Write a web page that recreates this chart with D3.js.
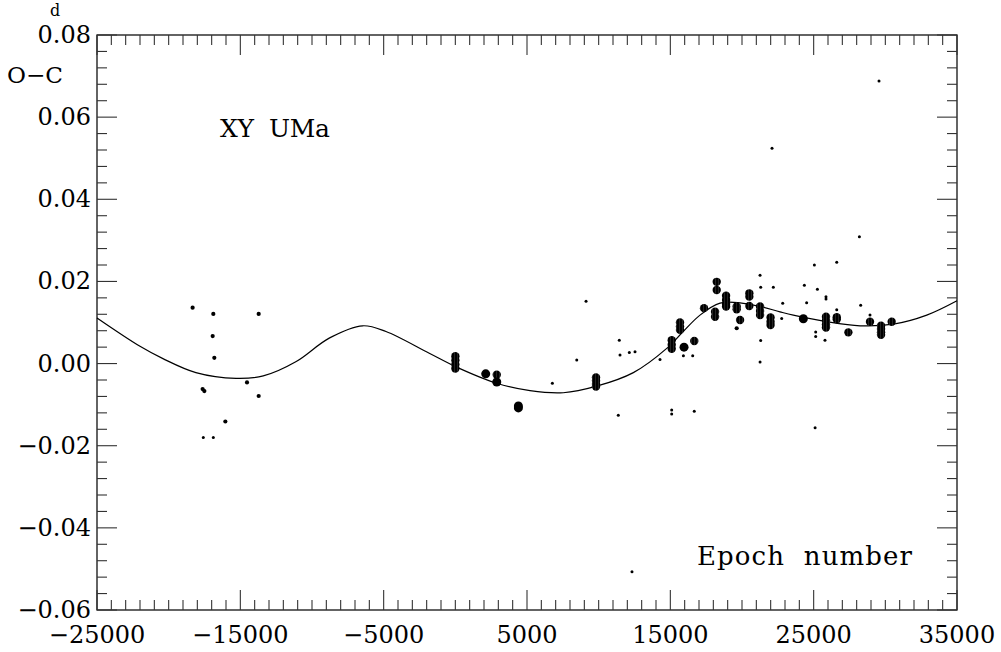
<!DOCTYPE html>
<html>
<head>
<meta charset="utf-8">
<script src="https://cdn.jsdelivr.net/npm/d3@7"></script>
<style>
  html, body { margin: 0; padding: 0; background: #fff; }
  svg { display: block; }
  text { font-family: "DejaVu Serif", "Liberation Serif", serif; fill: #000; }
</style>
</head>
<body>
<script>
// ---------- data ----------
const xTickLabels = [-25000, -15000, -5000, 5000, 15000, 25000, 35000];
const yTickLabels = [-0.06, -0.04, -0.02, 0.00, 0.02, 0.04, 0.06, 0.08];

// fitted curve
const curveEpoch = [-25000, -22000, -20400, -18100, -15300, -13400, -11100, -8800, -6460, -4840, -1820, 50, 2890, 5210, 7530, 9860, 12420, 14750, 15900, 17070, 18470, 19860, 21260, 22650, 23580, 25910, 28240, 30560, 32890, 35000];
const curveOC    = [0.0111, 0.0042, 0.0012, -0.0022, -0.0036, -0.0030, 0.0005, 0.0062, 0.0092, 0.0078, 0.0025, -0.0008, -0.0048, -0.0066, -0.0071, -0.0055, -0.0022, 0.0037, 0.0078, 0.0118, 0.0147, 0.0148, 0.0139, 0.0126, 0.0118, 0.0102, 0.0092, 0.0096, 0.0118, 0.0153];

// small dots (low weight)
const smallEpoch = [-17585, -16885, 6770, 8470, 9120, 11370, 11440, 11490, 12140, 12535, 12325, 14280, 15095, 15095, 16670, 15910, 16560, 21260, 21305, 22185, 21305, 21260, 22095, 22840, 22770, 24350, 24510, 25050, 25260, 25140, 25140, 25790, 25860, 25860, 26610, 26610, 28190, 28280, 28930, 29560, 25100];
const smallOC    = [-0.0180, -0.0180, -0.0048, 0.0009, 0.0152, -0.0126, 0.0057, 0.0021, 0.0027, 0.0029, -0.0507, 0.0010, -0.0113, -0.0123, -0.0116, 0.0019, 0.0019, 0.0215, 0.0186, 0.0186, 0.0056, 0.0004, 0.0524, 0.0147, 0.0110, 0.0191, 0.0148, 0.0240, 0.0181, 0.0077, 0.0066, 0.0057, 0.0163, 0.0157, 0.0247, 0.0131, 0.0309, 0.0142, 0.0118, 0.0688, -0.0156];

// medium dots
const midEpoch = [-18330, -16885, -13720, -16930, -16815, -17630, -17510, -14535, -13720, -16045, 19630];
const midOC    = [0.0136, 0.0121, 0.0121, 0.0067, 0.0014, -0.0062, -0.0067, -0.0046, -0.0079, -0.0141, 0.0086];

// large hatched points (high weight)
const bigEpoch = [0, 0, 0, 0, 2890, 9815, 9815, 9815, 9815, 15095, 15095, 15095, 15675, 15675, 15675, 16670, 17350, 18235, 18235, 18120, 18120, 18890, 18890, 18890, 18890, 19630, 19630, 19865, 20510, 20510, 20510, 21260, 21260, 21260, 21990, 21990, 21990, 25860, 25860, 25860, 25860, 26610, 26610, 27420, 28930, 29700, 29700, 29700, 29700, 30445];
const bigOC    = [0.0018, 0.0008, -0.0002, -0.0012, -0.0027, -0.0034, -0.0042, -0.0050, -0.0056, 0.0057, 0.0046, 0.0036, 0.0100, 0.0090, 0.0082, 0.0055, 0.0135, 0.0199, 0.0179, 0.0126, 0.0114, 0.0165, 0.0155, 0.0145, 0.0139, 0.0139, 0.0132, 0.0106, 0.0171, 0.0163, 0.0140, 0.0139, 0.0128, 0.0118, 0.0112, 0.0102, 0.0094, 0.0114, 0.0105, 0.0095, 0.0088, 0.0113, 0.0108, 0.0076, 0.0102, 0.0092, 0.0084, 0.0076, 0.0070, 0.0102];

// large solid points
const solidEpoch = [2120, 2890, 4400, 4400, 15955, 24280];
const solidOC    = [-0.0025, -0.0045, -0.0103, -0.0108, 0.0040, 0.0109];

// ---------- layout ----------
const W = 1001, H = 652;
const m = { left: 97, top: 35, right: 44, bottom: 42 };
const iw = W - m.left - m.right, ih = H - m.top - m.bottom;

const svg = d3.select("body").append("svg").attr("width", W).attr("height", H);

const defs = svg.append("defs");
const pat = defs.append("pattern").attr("id", "hatch").attr("patternUnits", "userSpaceOnUse")
  .attr("width", 3).attr("height", 3);
pat.append("rect").attr("width", 3).attr("height", 3).attr("fill", "#000");
pat.append("rect").attr("x", 1).attr("width", 0.6).attr("height", 3).attr("fill", "#3c3c3c");

const x = d3.scaleLinear().domain([-25000, 35000]).range([m.left, m.left + iw]);
const y = d3.scaleLinear().domain([-0.06, 0.08]).range([m.top + ih, m.top]);

const g = svg.append("g");

// frame
g.append("rect").attr("x", x(-25000)).attr("y", y(0.08))
  .attr("width", x(35000) - x(-25000)).attr("height", y(-0.06) - y(0.08))
  .attr("fill", "none").attr("stroke", "#111").attr("stroke-width", 1.3);

// ticks
const xMinor = d3.range(-25000, 35001, 1000);
const yMinor = d3.range(0, 36).map(i => -0.06 + i * 0.004);
const isXMajor = v => xTickLabels.includes(v);
const isYMajor = v => yTickLabels.some(t => Math.abs(t - v) < 1e-9);

const tk = g.append("g").attr("stroke", "#333").attr("stroke-width", 1.1);
xMinor.forEach(v => {
  const L = isXMajor(v) ? 20 : 10;
  tk.append("line").attr("x1", x(v)).attr("x2", x(v)).attr("y1", y(-0.06)).attr("y2", y(-0.06) - L);
  tk.append("line").attr("x1", x(v)).attr("x2", x(v)).attr("y1", y(0.08)).attr("y2", y(0.08) + L);
});
yMinor.forEach(v => {
  const L = isYMajor(v) ? 20 : 10;
  tk.append("line").attr("y1", y(v)).attr("y2", y(v)).attr("x1", x(-25000)).attr("x2", x(-25000) + L);
  tk.append("line").attr("y1", y(v)).attr("y2", y(v)).attr("x1", x(35000)).attr("x2", x(35000) - L);
});

// tick labels
const fmtY = v => (v < 0 ? "\u2212" : "") + Math.abs(v).toFixed(2);
const fmtX = v => (v < 0 ? "\u2212" : "") + Math.abs(v);
g.selectAll(".yl").data(yTickLabels).join("text")
  .attr("x", x(-25000) - 6).attr("y", d => y(d) + 8)
  .attr("text-anchor", "end").attr("font-size", 24).text(fmtY);
g.selectAll(".xl").data(xTickLabels).join("text")
  .attr("x", d => x(d)).attr("y", y(-0.06) + 33)
  .attr("text-anchor", "middle").attr("font-size", 24).text(fmtX);

// axis titles / annotation
g.append("text").attr("x", 50).attr("y", 16).attr("font-size", 16).text("d");
g.append("text").attr("x", 7).attr("y", 83).attr("font-size", 23)
  .attr("textLength", 56).attr("lengthAdjust", "spacingAndGlyphs").text("O\u2212C");
g.append("text").attr("x", 220).attr("y", 137).attr("font-size", 25)
  .attr("textLength", 110).attr("lengthAdjust", "spacing").style("white-space", "pre").text("XY  UMa");
g.append("text").attr("x", 697).attr("y", 565).attr("font-size", 26)
  .attr("textLength", 215).attr("lengthAdjust", "spacing").style("white-space", "pre").text("Epoch  number");

// curve
const curvePts = curveEpoch.map((e, i) => [e, curveOC[i]]);
g.append("path").datum(curvePts)
  .attr("fill", "none").attr("stroke", "#000").attr("stroke-width", 1.2)
  .attr("d", d3.line().x(d => x(d[0])).y(d => y(d[1])).curve(d3.curveCatmullRom.alpha(0.5)));

// points
function drawPts(E, V, r, fill) {
  g.append("g").selectAll("circle").data(E.map((e, i) => [e, V[i]])).join("circle")
    .attr("cx", d => x(d[0])).attr("cy", d => y(d[1])).attr("r", r).attr("fill", fill);
}
drawPts(smallEpoch, smallOC, 1.5, "#000");
drawPts(midEpoch, midOC, 2.1, "#000");
drawPts(bigEpoch, bigOC, 4.2, "url(#hatch)");
drawPts(solidEpoch, solidOC, 4.5, "#000");
</script>
</body>
</html>
